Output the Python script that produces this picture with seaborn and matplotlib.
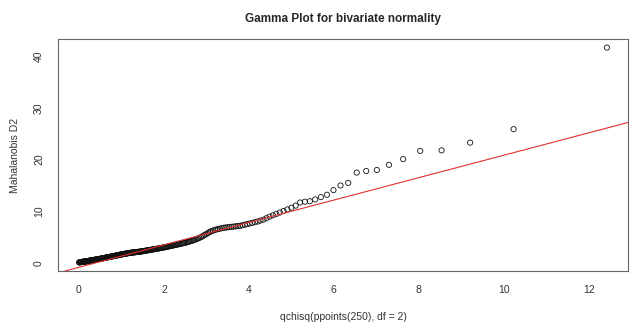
import numpy as np
import pandas as pd
import matplotlib
matplotlib.use("Agg")
import matplotlib.pyplot as plt
import seaborn as sns

# gamma plot: theoretical chi-square quantiles vs sorted mahalanobis distances
chisq_q = [
    0.004, 0.012, 0.020, 0.028, 0.036, 0.045, 0.053, 0.061, 0.069, 0.078,
    0.086, 0.094, 0.103, 0.111, 0.120, 0.128, 0.137, 0.145, 0.154, 0.162,
    0.171, 0.180, 0.189, 0.197, 0.206, 0.215, 0.224, 0.233, 0.242, 0.251,
    0.260, 0.269, 0.279, 0.288, 0.297, 0.306, 0.316, 0.325, 0.335, 0.344,
    0.354, 0.363, 0.373, 0.382, 0.392, 0.402, 0.412, 0.422, 0.431, 0.441,
    0.451, 0.461, 0.472, 0.482, 0.492, 0.502, 0.512, 0.523, 0.533, 0.544,
    0.554, 0.565, 0.575, 0.586, 0.597, 0.608, 0.618, 0.629, 0.640, 0.652,
    0.663, 0.674, 0.685, 0.696, 0.708, 0.719, 0.731, 0.742, 0.754, 0.766,
    0.777, 0.789, 0.801, 0.813, 0.825, 0.837, 0.849, 0.862, 0.874, 0.886,
    0.899, 0.911, 0.924, 0.937, 0.950, 0.962, 0.975, 0.989, 1.002, 1.015,
    1.028, 1.042, 1.055, 1.069, 1.083, 1.096, 1.110, 1.124, 1.138, 1.153,
    1.167, 1.181, 1.196, 1.210, 1.225, 1.240, 1.255, 1.270, 1.285, 1.300,
    1.316, 1.331, 1.347, 1.363, 1.378, 1.394, 1.411, 1.427, 1.443, 1.460,
    1.476, 1.493, 1.510, 1.527, 1.544, 1.562, 1.579, 1.597, 1.615, 1.633,
    1.651, 1.670, 1.688, 1.707, 1.726, 1.745, 1.764, 1.783, 1.803, 1.823,
    1.843, 1.863, 1.883, 1.904, 1.925, 1.946, 1.967, 1.989, 2.010, 2.032,
    2.054, 2.077, 2.100, 2.123, 2.146, 2.169, 2.193, 2.217, 2.242, 2.266,
    2.291, 2.317, 2.342, 2.368, 2.395, 2.422, 2.449, 2.476, 2.504, 2.532,
    2.560, 2.589, 2.619, 2.649, 2.679, 2.710, 2.741, 2.773, 2.805, 2.838,
    2.871, 2.905, 2.939, 2.974, 3.010, 3.047, 3.084, 3.121, 3.160, 3.199,
    3.239, 3.280, 3.322, 3.364, 3.408, 3.452, 3.497, 3.544, 3.592, 3.640,
    3.690, 3.742, 3.794, 3.848, 3.904, 3.961, 4.020, 4.080, 4.143, 4.208,
    4.274, 4.343, 4.415, 4.489, 4.566, 4.646, 4.729, 4.816, 4.907, 5.002,
    5.102, 5.207, 5.319, 5.436, 5.561, 5.695, 5.838, 5.992, 6.158, 6.340,
    6.540, 6.763, 7.013, 7.299, 7.633, 8.035, 8.537, 9.210, 10.232, 12.429,
]

mahal_d2 = [
    0.10, 0.11, 0.12, 0.13, 0.15, 0.16, 0.17, 0.18, 0.19, 0.20,
    0.21, 0.22, 0.23, 0.24, 0.25, 0.26, 0.27, 0.28, 0.29, 0.30,
    0.31, 0.33, 0.34, 0.35, 0.36, 0.37, 0.39, 0.40, 0.41, 0.43,
    0.44, 0.45, 0.47, 0.48, 0.50, 0.51, 0.52, 0.54, 0.55, 0.57,
    0.58, 0.59, 0.61, 0.62, 0.64, 0.65, 0.67, 0.68, 0.70, 0.71,
    0.73, 0.74, 0.76, 0.77, 0.79, 0.80, 0.82, 0.84, 0.86, 0.87,
    0.89, 0.91, 0.93, 0.94, 0.96, 0.98, 1.00, 1.01, 1.03, 1.05,
    1.07, 1.09, 1.11, 1.13, 1.15, 1.16, 1.18, 1.20, 1.22, 1.24,
    1.26, 1.28, 1.30, 1.32, 1.34, 1.36, 1.39, 1.41, 1.43, 1.45,
    1.47, 1.49, 1.52, 1.54, 1.56, 1.58, 1.61, 1.63, 1.65, 1.67,
    1.69, 1.71, 1.73, 1.75, 1.77, 1.79, 1.82, 1.84, 1.86, 1.88,
    1.90, 1.92, 1.94, 1.96, 1.97, 1.99, 2.00, 2.02, 2.03, 2.05,
    2.07, 2.08, 2.10, 2.11, 2.13, 2.14, 2.16, 2.18, 2.19, 2.21,
    2.24, 2.26, 2.28, 2.31, 2.33, 2.36, 2.38, 2.41, 2.43, 2.46,
    2.48, 2.51, 2.53, 2.56, 2.59, 2.62, 2.65, 2.67, 2.70, 2.73,
    2.76, 2.79, 2.82, 2.86, 2.89, 2.92, 2.95, 2.98, 3.02, 3.06,
    3.09, 3.13, 3.17, 3.22, 3.26, 3.30, 3.34, 3.38, 3.43, 3.47,
    3.52, 3.56, 3.61, 3.66, 3.71, 3.76, 3.81, 3.86, 3.91, 3.98,
    4.05, 4.12, 4.20, 4.27, 4.35, 4.43, 4.54, 4.64, 4.75, 4.86,
    4.99, 5.15, 5.31, 5.48, 5.65, 5.84, 6.02, 6.16, 6.28, 6.40,
    6.48, 6.56, 6.64, 6.73, 6.81, 6.85, 6.90, 6.94, 6.99, 7.04,
    7.09, 7.14, 7.19, 7.30, 7.41, 7.52, 7.64, 7.76, 7.89, 8.02,
    8.20, 8.38, 8.66, 8.96, 9.22, 9.49, 9.76, 10.06, 10.37, 10.70,
    11.10, 11.70, 11.85, 11.95, 12.30, 12.75, 13.20, 14.10, 15.00, 15.50,
    17.50, 17.80, 18.00, 19.00, 20.10, 21.70, 21.80, 23.30, 25.90, 41.70,
]

# reference line (intercept, slope)
line_coef = [-0.85, 2.17]

x_ticks = [0, 2, 4, 6, 8, 10, 12]
y_ticks = [0, 10, 20, 30, 40]

df = pd.DataFrame({"q": chisq_q, "d2": mahal_d2})

sns.set_style("white")
plt.rcParams["font.family"] = ["Liberation Sans", "DejaVu Sans"]

fig = plt.figure(figsize=(6.32, 3.22), dpi=100)
ax = fig.add_axes([58 / 632, 1 - 271 / 322, 570 / 632, 232 / 322])

sns.scatterplot(data=df, x="q", y="d2", ax=ax, marker="o", s=14,
                facecolors="none", edgecolor="#111111", linewidth=0.6)
ax.axline((0, line_coef[0]), slope=line_coef[1], color="#e03030", lw=0.8)

# R style 4% padding
xr = max(chisq_q) - min(chisq_q)
yr = max(mahal_d2) - min(mahal_d2)
ax.set_xlim(min(chisq_q) - 0.04 * xr, max(chisq_q) + 0.04 * xr)
ax.set_ylim(min(mahal_d2) - 0.04 * yr, max(mahal_d2) + 0.04 * yr)

ax.set_xticks(x_ticks)
ax.set_yticks(y_ticks)
ax.set_yticklabels([str(t) for t in y_ticks], rotation=90, va="center")
ax.tick_params(axis="both", direction="out", length=4, width=0.8,
               color="#666666", labelsize=7.5, labelcolor="#333333", pad=6)
for s in ax.spines.values():
    s.set_color("#666666")
    s.set_linewidth(0.8)

ax.set_xlabel("qchisq(ppoints(250), df = 2)", fontsize=7.5, color="#333333", labelpad=12)
ax.set_ylabel("Mahalanobis D2", fontsize=7.5, color="#333333", labelpad=10)
ax.set_title("Gamma Plot for bivariate normality", fontsize=8.5, fontweight="bold", pad=12)

fig.savefig("out.png", dpi=100)
